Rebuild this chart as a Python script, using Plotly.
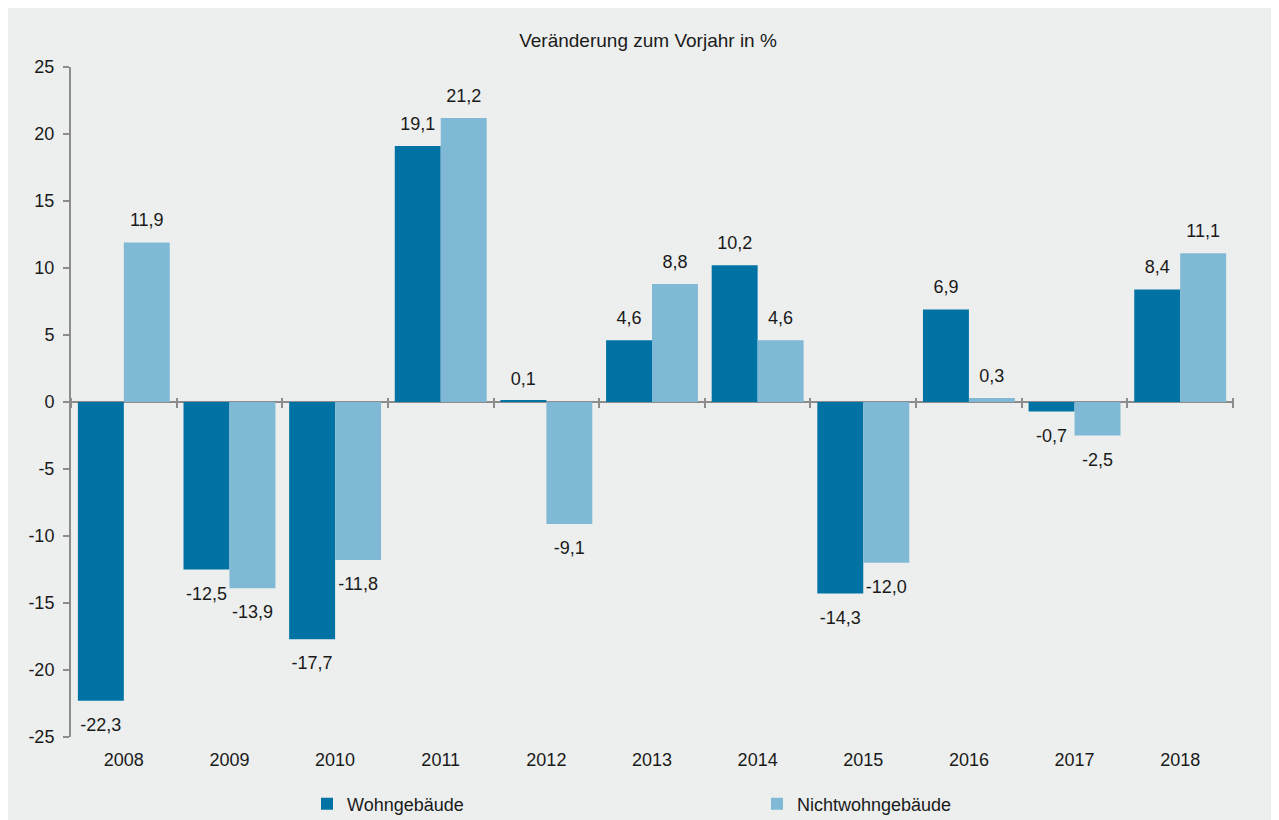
import plotly.graph_objects as go

years = ["2008", "2009", "2010", "2011", "2012", "2013", "2014", "2015", "2016", "2017", "2018"]
wohn = [-22.3, -12.5, -17.7, 19.1, 0.1, 4.6, 10.2, -14.3, 6.9, -0.7, 8.4]
nichtwohn = [11.9, -13.9, -11.8, 21.2, -9.1, 8.8, 4.6, -12.0, 0.3, -2.5, 11.1]
y_ticks = [25, 20, 15, 10, 5, 0, -5, -10, -15, -20, -25]

DARK = "#0073A4"
LIGHT = "#80B9D5"
BG = "#EDEFEE"
AXIS = "#8C8C8C"
TXT = "#1a1a1a"
FONT = "Liberation Sans, Arial, sans-serif"
FS = 18

# the page body adds an 8px offset; the figure is sized to fit the window
OFF = 8
W, H = 1279 - OFF, 820 - OFF
L, T = 71 - OFF, 67 - OFF
pw, ph = 1162, 670
R, B = W - L - pw, H - T - ph


def fmt(v):
    return f"{v:.1f}".replace(".", ",")


series = [("Wohngebäude", wohn, DARK), ("Nichtwohngebäude", nichtwohn, LIGHT)]

fig = go.Figure()
for name, vals, col in series:
    fig.add_trace(go.Bar(
        x=years, y=vals, name=name, marker=dict(color=col, line=dict(width=0)),
        offsetgroup=name, hoverinfo="x+y",
    ))
for name, vals, col in series:
    fig.add_trace(go.Scatter(
        x=years, y=vals, mode="markers+text", showlegend=False, hoverinfo="skip",
        offsetgroup=name,
        text=[fmt(v) for v in vals],
        textposition=["top center" if v >= 0 else "bottom center" for v in vals],
        marker=dict(size=[17 if v >= 0 else 25 for v in vals], color="rgba(0,0,0,0)",
                    line=dict(width=0)),
        textfont=dict(size=FS, color=TXT, family=FONT), cliponaxis=False,
    ))
# invisible helper trace to carry the zero-line category tick axis
fig.add_trace(go.Scatter(
    x=years, y=wohn, xaxis="x2", mode="markers",
    marker=dict(opacity=0, line=dict(width=0)),
    showlegend=False, hoverinfo="skip",
))

fig.update_layout(
    template="none",
    width=W, height=H,
    margin=dict(l=L, r=R, t=T, b=B, autoexpand=False),
    paper_bgcolor=BG,
    plot_bgcolor=BG,
    barmode="group",
    bargap=0.13,
    bargroupgap=0,
    scattermode="group",
    scattergap=0.13,
    font=dict(family=FONT, size=FS, color=TXT),
    showlegend=True,
    title=dict(
        text="Veränderung zum Vorjahr in %", xref="container", yref="container",
        x=(648 - OFF) / W, y=1 - (40 - OFF) / H, xanchor="center", yanchor="middle",
        font=dict(size=19, color=TXT, family=FONT),
    ),
    legend=dict(
        orientation="h", xref="container", yref="container",
        x=(307 - OFF) / W, xanchor="left", y=1 - (804 - OFF) / H, yanchor="middle",
        entrywidth=405, entrywidthmode="pixels",
        font=dict(size=FS, color=TXT, family=FONT),
        bgcolor="rgba(0,0,0,0)", borderwidth=0, traceorder="normal",
    ),
    xaxis=dict(
        type="category", categoryorder="array", categoryarray=years,
        range=[-0.5, len(years) - 0.5], automargin=False,
        showline=False, showgrid=False, zeroline=False, ticks="",
        tickfont=dict(size=FS, color=TXT), ticklabelstandoff=10,
    ),
    xaxis2=dict(
        type="category", categoryorder="array", categoryarray=years,
        overlaying="x", matches="x", anchor="free", automargin=False,
        position=0.5 + 5 / ph, side="bottom",
        showline=False, showgrid=False, zeroline=False,
        ticks="outside", tickson="boundaries", ticklen=10, tickwidth=1.5, tickcolor=AXIS,
        showticklabels=False,
    ),
    yaxis=dict(
        range=[-25, 25], tickvals=y_ticks, ticktext=[str(v) for v in y_ticks],
        automargin=False,
        showgrid=False, zeroline=True, zerolinecolor=AXIS, zerolinewidth=2,
        showline=True, linecolor=AXIS, linewidth=2,
        ticks="outside", ticklen=6, tickwidth=1.5, tickcolor=AXIS,
        tickfont=dict(size=FS, color=TXT), ticklabelstandoff=5,
    ),
)

fig.write_html("out.html")
